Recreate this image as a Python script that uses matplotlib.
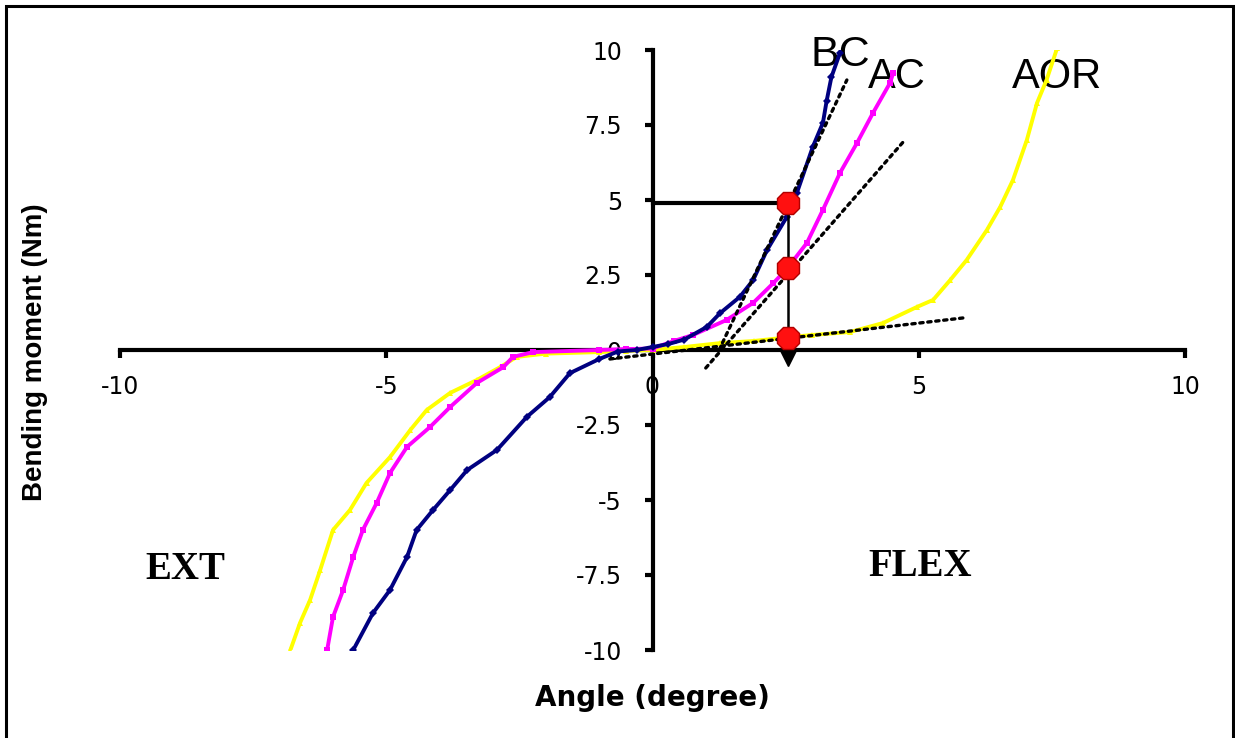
import matplotlib
matplotlib.use("Agg")
import matplotlib.pyplot as plt
from matplotlib.patches import Rectangle

plt.rcParams["axes.unicode_minus"] = False

# === DATA ===
bc_x = [-5.62, -5.25, -4.93, -4.61, -4.43, -4.12, -3.8, -3.48, -2.92, -2.36, -1.93, -1.55,
        -1.0, -0.65, -0.3, 0.0, 0.3, 0.6, 1.02, 1.27, 1.64, 1.89, 2.15, 2.52, 2.71, 3.01,
        3.2, 3.27, 3.36, 3.52]
bc_y = [-10.0, -8.77, -8.0, -6.9, -6.0, -5.33, -4.67, -4.0, -3.33, -2.23, -1.57, -0.77,
        -0.3, -0.05, 0.0, 0.1, 0.2, 0.35, 0.77, 1.23, 1.77, 2.33, 3.33, 4.43, 5.23, 6.77,
        7.57, 8.3, 9.1, 9.9]

ac_x = [-6.11, -6.0, -5.81, -5.62, -5.44, -5.18, -4.93, -4.61, -4.18, -3.8, -3.3, -2.8,
        -2.62, -2.24, -1.0, -0.5, 0.0, 0.4, 0.76, 1.39, 1.89, 2.27, 2.52, 2.9, 3.2, 3.52,
        3.84, 4.14, 4.46, 4.52]
ac_y = [-10.0, -8.9, -8.0, -6.9, -6.0, -5.1, -4.1, -3.23, -2.57, -1.9, -1.1, -0.57,
        -0.23, -0.07, 0.0, 0.03, 0.05, 0.3, 0.5, 1.0, 1.57, 2.23, 2.7, 3.57, 4.67, 5.9,
        6.9, 7.9, 8.9, 9.23]

aor_x = [-6.8, -6.62, -6.43, -6.24, -6.0, -5.68, -5.37, -4.93, -4.55, -4.24, -3.8, -3.3,
         -2.86, -2.55, -2.0, -1.0, -0.5, 0.0, 0.6, 1.27, 1.9, 2.58, 3.0, 3.71, 4.33, 4.96,
         5.27, 5.59, 5.9, 6.28, 6.53, 6.77, 7.03, 7.22, 7.4, 7.6]
aor_y = [-10.0, -9.1, -8.33, -7.33, -6.0, -5.33, -4.43, -3.57, -2.67, -2.0, -1.43, -1.0,
         -0.57, -0.23, -0.12, -0.07, -0.03, 0.0, 0.1, 0.23, 0.3, 0.43, 0.5, 0.6, 0.9, 1.43,
         1.67, 2.33, 3.0, 4.0, 4.77, 5.67, 7.0, 8.23, 9.0, 10.07]

# tangent lines (start/end points)
tan_bc_x = [1.25, 3.65]
tan_bc_y = [0.0, 9.0]
tan_ac_x = [1.0, 4.74]
tan_ac_y = [-0.6, 7.0]
tan_aor_x = [-0.8, 5.84]
tan_aor_y = [-0.3, 1.07]

# points where the curves are read at a given angle
mark_angle = 2.55
mark_moments = [4.9, 2.75, 0.4]

xticks = [-10, -5, 0, 5, 10]
yticks = [-10, -7.5, -5, -2.5, 0, 2.5, 5, 7.5, 10]
ytick_labels = ["-10", "-7.5", "-5", "-2.5", "0", "2.5", "5", "7.5", "10"]

# === PLOT ===
fig = plt.figure(figsize=(12.35, 7.38), dpi=100)
ax = fig.add_axes([120 / 1235, 88 / 738, 1065 / 1235, 600 / 738])
ax.set_xlim(-10, 10)
ax.set_ylim(-10, 10)

ax.plot(aor_x, aor_y, color="#FFFF00", lw=2.8, marker="^", ms=5, mew=0, zorder=3)
ax.plot(ac_x, ac_y, color="#FF00FF", lw=2.8, marker="s", ms=4.5, mew=0, zorder=3)
ax.plot(bc_x, bc_y, color="#000080", lw=2.8, marker="D", ms=4, mew=0, zorder=3)

dots = (0, (1, 1.4))
for tx, ty in [(tan_bc_x, tan_bc_y), (tan_ac_x, tan_ac_y), (tan_aor_x, tan_aor_y)]:
    ax.plot(tx, ty, color="black", lw=2.4, linestyle=dots, dash_capstyle="round", zorder=4)

# guide lines
ax.plot([0, mark_angle], [mark_moments[0], mark_moments[0]], color="black", lw=3, zorder=4)
ax.plot([mark_angle, mark_angle], [mark_moments[0], 0], color="black", lw=1.8, zorder=4)
ax.plot([mark_angle], [-0.25], marker="v", color="black", ms=11, zorder=5)
ax.plot([mark_angle] * len(mark_moments), mark_moments, linestyle="none", marker="8",
        ms=17, mfc="#FF1010", mec="#B00000", mew=1, zorder=6)

# axes through origin
for side in ["top", "right"]:
    ax.spines[side].set_visible(False)
ax.spines["left"].set_position(("data", 0))
ax.spines["bottom"].set_position(("data", 0))
ax.spines["left"].set_linewidth(3)
ax.spines["bottom"].set_linewidth(3)

ax.set_xticks(xticks)
ax.set_xticklabels([str(v) for v in xticks])
ax.set_yticks(yticks)
ax.set_yticklabels(ytick_labels)
ax.tick_params(axis="both", direction="out", length=6, width=3, labelsize=17)
ax.tick_params(axis="x", pad=12)
ax.tick_params(axis="y", pad=16)
for lab in ax.get_xticklabels() + ax.get_yticklabels():
    lab.set_family("DejaVu Sans")

# curve names
ax.text(3.52, 9.83, "BC", fontsize=31, family="Liberation Sans", ha="center", va="center", zorder=2)
ax.text(4.59, 9.1, "AC", fontsize=30, family="Liberation Sans", ha="center", va="center", zorder=2)
ax.text(7.6, 9.1, "AOR", fontsize=30, family="Liberation Sans", ha="center", va="center", zorder=2)
ax.text(-8.78, -7.33, "EXT", fontsize=28, family="Liberation Serif", weight="bold", ha="center", va="center")
ax.text(5.02, -7.23, "FLEX", fontsize=28, family="Liberation Serif", weight="bold", ha="center", va="center")

fig.text(652 / 1235, 1 - 698 / 738, "Angle (degree)", fontsize=20, family="DejaVu Sans",
         weight="bold", ha="center", va="center")
fig.text(35 / 1235, 1 - 352 / 738, "Bending moment (Nm)", fontsize=20, family="Liberation Sans",
         weight="bold", rotation=90, ha="center", va="center")

# outer frame
fig.patches.append(Rectangle((6 / 1235, -0.02), 1227 / 1235, 1 - 6 / 738 + 0.02, transform=fig.transFigure,
                             fill=False, edgecolor="black", lw=2.2))

fig.savefig("out.png", dpi=100)
